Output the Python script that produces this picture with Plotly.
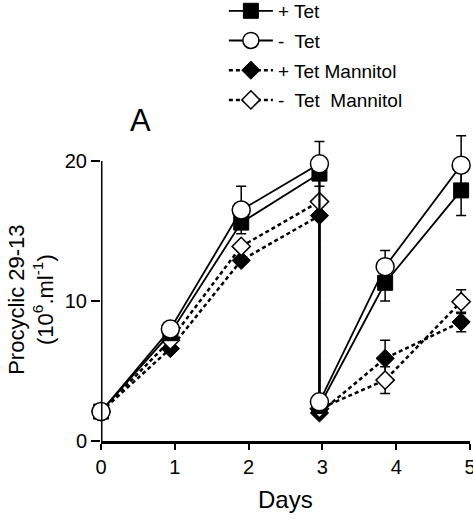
import plotly.graph_objects as go

days = [0, 0.94, 1.9, 2.96, 2.96, 3.85, 4.88]
plus_tet = [2.1, 7.7, 15.6, 19.1, 2.5, 11.3, 17.9]
minus_tet = [2.1, 8.0, 16.5, 19.8, 2.8, 12.45, 19.7]
plus_man = [2.1, 6.6, 12.9, 16.1, 2.0, 5.9, 8.5]
minus_man = [2.1, 7.2, 13.9, 17.1, 2.3, 4.35, 9.95]
plus_tet_err = [0, 0, 0, 0, 0, 1.3, 1.8]
minus_tet_err = [0, 0, 1.7, 1.6, 0, 1.15, 2.1]
plus_man_err = [0, 0, 0, 0, 0, 1.3, 0.7]
minus_man_err = [0, 0, 0, 0, 0, 0.95, 0.85]

x_ticks = [0, 1, 2, 3, 4, 5]
y_ticks = [0, 10, 20]

FONT = "Liberation Sans, Arial, sans-serif"

def err(arr):
    return dict(type="data", array=arr, visible=True, color="black",
                thickness=1.5, width=5)

fig = go.Figure()
fig.add_trace(go.Scatter(
    x=days, y=plus_man, name="+ Tet Mannitol", mode="lines+markers",
    line=dict(color="black", width=2.5, dash="4px,3px"),
    marker=dict(symbol="diamond", size=14, color="black",
                line=dict(color="black", width=1)),
    error_y=err(plus_man_err), cliponaxis=False, legendrank=3,
    legendgroup="c"))
fig.add_trace(go.Scatter(
    x=days, y=minus_man, name="-  Tet  Mannitol", mode="lines+markers",
    line=dict(color="black", width=2.5, dash="4px,3px"),
    marker=dict(symbol="diamond", size=14, color="white",
                line=dict(color="black", width=1.5)),
    error_y=err(minus_man_err), cliponaxis=False, legendrank=4,
    legendgroup="d"))
fig.add_trace(go.Scatter(
    x=days, y=plus_tet, name="+ Tet", mode="lines+markers",
    line=dict(color="black", width=1.8),
    marker=dict(symbol="square", size=15, color="black",
                line=dict(color="black", width=1)),
    error_y=err(plus_tet_err), cliponaxis=False, legendrank=1,
    legendgroup="a"))
fig.add_trace(go.Scatter(
    x=days, y=minus_tet, name="-  Tet", mode="lines+markers",
    line=dict(color="black", width=1.8),
    marker=dict(symbol="circle", size=18, color="white",
                line=dict(color="black", width=1.5)),
    error_y=err(minus_tet_err), cliponaxis=False, legendrank=2,
    legendgroup="b"))

fig.add_shape(type="line", xref="x", yref="y", x0=0, x1=0, y0=0, y1=20,
              line=dict(color="black", width=3), layer="above")

fig.update_layout(
    width=473, height=520,
    margin=dict(l=101, r=3, t=133, b=79, autoexpand=False),
    paper_bgcolor="white", plot_bgcolor="white",
    font=dict(family=FONT, color="black", size=20),
    showlegend=True,
    legend=dict(x=0.333, y=1.458, xanchor="left", yanchor="top",
                font=dict(size=19, family=FONT), traceorder="grouped",
                tracegroupgap=2, itemwidth=44, bgcolor="rgba(0,0,0,0)"),
    xaxis=dict(range=[0, 5], tickvals=x_ticks, ticks="outside", ticklen=6,
               tickwidth=2, tickcolor="black", showline=True, linecolor="black",
               linewidth=3, showgrid=False, zeroline=False,
               tickfont=dict(size=20), automargin=False,
               ticklabeloverflow="allow"),
    yaxis=dict(range=[0, 22], tickvals=y_ticks, ticks="outside", ticklen=9,
               tickwidth=2, tickcolor="black", showline=False,
               showgrid=False, zeroline=False, tickfont=dict(size=20),
               automargin=False, ticklabeloverflow="allow"),
    annotations=[
        dict(text="Procyclic 29-13<br>(10<sup>6</sup>.ml<sup>-1</sup>)",
             xref="paper", yref="paper", x=-0.19, y=0.458, textangle=-90,
             showarrow=False, font=dict(size=22), xanchor="center",
             yanchor="middle"),
        dict(text="Days", xref="paper", yref="paper", x=0.501, y=-0.19,
             showarrow=False, font=dict(size=24), xanchor="center",
             yanchor="middle"),
        dict(text="A", xref="paper", yref="paper", x=0.106, y=1.039,
             showarrow=False, font=dict(size=31), xanchor="center",
             yanchor="middle"),
    ],
)

fig.write_html("out.html", config={"displayModeBar": False},
               post_script="document.body.style.margin='0';")
